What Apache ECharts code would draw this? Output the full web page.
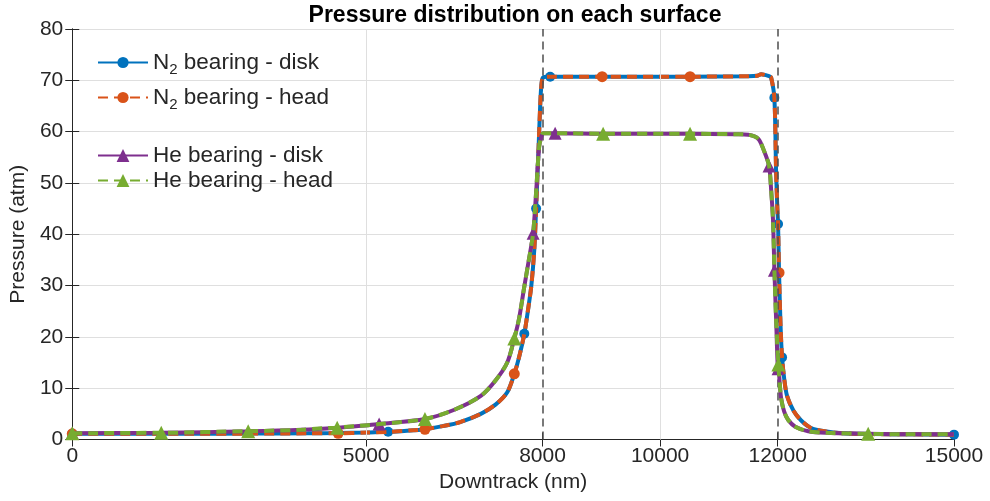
<!DOCTYPE html>
<html>
<head>
<meta charset="utf-8">
<script src="https://cdn.jsdelivr.net/npm/echarts@6/dist/echarts.min.js"></script>
<style>
  html, body { margin: 0; padding: 0; background: #fff; }
  #chart { width: 990px; height: 501px; }
</style>
</head>
<body>
<div id="chart"></div>
<script>
// 曲线数据
var n2X = [0, 1000, 2000, 3000, 4000, 4500, 5000, 5400, 5800, 6000, 6300, 6600, 6950, 7200, 7400, 7520, 7600, 7690, 7750, 7810, 7860, 7891, 7930, 7960, 7980, 8005, 8060, 8130, 9000, 10500, 11500, 11650, 11720, 11800, 11860, 11890, 11944, 11973, 11995, 12007, 12024, 12050, 12075, 12110, 12160, 12270, 12400, 12560, 12800, 13120, 13600, 14300, 15000]
var n2Y = [1.1, 1.1, 1.1, 1.15, 1.2, 1.25, 1.35, 1.5, 1.8, 2.0, 2.6, 3.4, 5.0, 6.8, 9.2, 12.8, 16, 20.6, 25, 30, 37, 45, 56, 65, 69, 70.5, 70.7, 70.7, 70.7, 70.7, 70.8, 70.9, 71.2, 71.0, 70.8, 70.5, 66.6, 52.5, 45, 42, 32.5, 22, 16, 12, 8.5, 5.6, 3.7, 2.3, 1.6, 1.2, 1.05, 1.0, 0.95]
var heX = [0, 1500, 3000, 3900, 4500, 5030, 5220, 6000, 6500, 6950, 7200, 7400, 7520, 7600, 7690, 7760, 7840, 7890, 7942, 7980, 8010, 8100, 8214, 9000, 10500, 11300, 11500, 11670, 11770, 11854, 11890, 11920, 11945, 11975, 12012, 12035, 12060, 12110, 12180, 12300, 12520, 12840, 13540, 14300, 15000]
var heY = [1.2, 1.3, 1.6, 1.9, 2.3, 2.8, 3.0, 4.0, 5.8, 8.5, 11.5, 15, 19.7, 23.5, 29.8, 34.5, 40.2, 48, 57, 59, 59.7, 59.7, 59.7, 59.6, 59.6, 59.5, 59.4, 58.6, 56.2, 53.3, 48.5, 43, 33, 23, 14.6, 11, 8, 5.5, 3.8, 2.5, 1.6, 1.3, 1.1, 1.0, 1.0]

// 标记点位置
var n2DiskMarkX = [0, 5374, 7690, 7891, 8130, 11944, 12007, 12075, 15000]
var n2DiskMarkY = [1.1, 1.5, 20.6, 45, 70.7, 66.6, 42, 16, 0.95]
var n2HeadMarkX = [0, 4524, 6000, 7520, 9014, 10510, 12024]
var n2HeadMarkY = [1.1, 1.2, 2.0, 12.8, 70.7, 70.7, 32.5]
var heDiskMarkX = [0, 5220, 7840, 8214, 11854, 11945, 12007]
var heDiskMarkY = [1.2, 3.0, 40.2, 59.7, 53.3, 33, 13.8]
var heHeadMarkX = [0, 1514, 2993, 4507, 6000, 7520, 9031, 10510, 12012, 13540]
var heHeadMarkY = [1.2, 1.3, 1.6, 2.3, 4.0, 19.7, 59.6, 59.6, 14.6, 1.1]

var xTicks = [0, 5000, 8000, 10000, 12000, 15000]
var gridX = [5000, 10000]
var dashX = [8000, 12000]

var names = ['N2 bearing - disk', 'N2 bearing - head', 'He bearing - disk', 'He bearing - head']
var colors = ['#0072BD', '#D95319', '#7E2F8E', '#77AC30']
var axisColor = '#262626'
var font = 'Liberation Sans, Arial, Helvetica, sans-serif'

function buildData(cx, cy, mx, my) {
  var pts = []
  cx.forEach(function (x, i) {
    pts.push({ value: [x, cy[i]], symbol: 'none' })
  })
  mx.forEach(function (x, i) {
    pts.push({ value: [x, my[i]] })
  })
  pts.sort(function (a, b) { return a.value[0] - b.value[0] })
  return pts
}

function lineSeries(idx, data, symbol, size, dashed, z) {
  return {
    name: names[idx],
    type: 'line',
    data: data,
    symbol: symbol,
    symbolSize: size,
    showAllSymbol: true,
    smooth: 0.3,
    z: z,
    color: colors[idx],
    lineStyle: {
      color: colors[idx],
      width: 4,
      type: dashed ? [10, 6] : 'solid'
    },
    itemStyle: {
      color: colors[idx],
      borderWidth: 0
    },
    emphasis: { disabled: true }
  }
}

var chart = echarts.init(document.getElementById('chart'))

var legendText = {
  fontSize: 22.5,
  color: axisColor,
  fontFamily: font,
  rich: {
    a: { fontSize: 22.5, lineHeight: 24, color: axisColor, fontFamily: font },
    sub: { fontSize: 15, lineHeight: 24, color: axisColor, fontFamily: font, padding: [14, 0, 0, 0] }
  }
}
function legendFormatter(name) {
  if (name.indexOf('N2') === 0) {
    return '{a|N}{sub|2}{a|' + name.slice(2) + '}'
  }
  return '{a|' + name + '}'
}

var tickStyle = { show: true, inside: true, length: 7, lineStyle: { color: axisColor, width: 1 } }

chart.setOption({
  animation: false,
  title: {
    text: 'Pressure distribution on each surface',
    left: 510,
    top: -1,
    textAlign: 'center',
    textStyle: { fontSize: 23, fontWeight: 'bold', color: '#000', fontFamily: font }
  },
  legend: [
    {
      data: [names[0], names[1]],
      orient: 'vertical',
      left: 97,
      top: 48,
      padding: 0,
      itemWidth: 50,
      itemHeight: 14,
      itemGap: 6,
      selectedMode: false,
      formatter: legendFormatter,
      textStyle: legendText
    },
    {
      data: [names[2], names[3]],
      orient: 'vertical',
      left: 97,
      top: 144,
      padding: 0,
      itemWidth: 50,
      itemHeight: 16,
      itemGap: 2,
      selectedMode: false,
      formatter: legendFormatter,
      textStyle: legendText
    }
  ],
  grid: {
    left: 71,
    right: 36,
    top: 29,
    bottom: 61.5
  },
  xAxis: [
    {
      type: 'value',
      min: 0,
      max: 15000,
      name: 'Downtrack (nm)',
      nameLocation: 'middle',
      nameGap: 32,
      nameTextStyle: { fontSize: 21, color: axisColor, fontFamily: font },
      axisLine: { lineStyle: { color: axisColor, width: 1 } },
      axisTick: Object.assign({ customValues: xTicks }, tickStyle),
      axisLabel: {
        customValues: xTicks,
        fontSize: 21,
        color: axisColor,
        fontFamily: font,
        margin: 6,
        formatter: function (v) { return String(v) }
      },
      splitLine: { show: false }
    },
    {
      type: 'value',
      position: 'top',
      min: 0,
      max: 15000,
      axisLine: { show: true, lineStyle: { color: axisColor, width: 1 } },
      axisTick: Object.assign({ customValues: xTicks }, tickStyle),
      axisLabel: { show: false },
      splitLine: { show: false }
    }
  ],
  yAxis: [
    {
      type: 'value',
      min: 0,
      max: 80,
      interval: 10,
      name: 'Pressure (atm)',
      nameLocation: 'middle',
      nameGap: 37,
      nameTextStyle: { fontSize: 21, color: axisColor, fontFamily: font },
      axisLine: { show: true, onZero: false, lineStyle: { color: axisColor, width: 1 } },
      axisTick: tickStyle,
      axisLabel: { fontSize: 21, color: axisColor, fontFamily: font, margin: 9 },
      splitLine: { show: true, lineStyle: { color: '#dfdfdf', width: 1 } }
    },
    {
      type: 'value',
      position: 'right',
      min: 0,
      max: 80,
      interval: 10,
      axisLine: { show: true, lineStyle: { color: axisColor, width: 1 } },
      axisTick: tickStyle,
      axisLabel: { show: false },
      splitLine: { show: false }
    }
  ],
  series: [
    {
      // 竖直网格线
      type: 'line',
      data: [],
      z: 1,
      silent: true,
      markLine: {
        symbol: 'none',
        silent: true,
        label: { show: false },
        lineStyle: { color: '#dfdfdf', width: 1, type: 'solid' },
        data: gridX.map(function (x) { return { xAxis: x } })
      }
    },
    lineSeries(0, buildData(n2X, n2Y, n2DiskMarkX, n2DiskMarkY), 'circle', 10, false, 3),
    lineSeries(1, buildData(n2X, n2Y, n2HeadMarkX, n2HeadMarkY), 'circle', 11, true, 4),
    lineSeries(2, buildData(heX, heY, heDiskMarkX, heDiskMarkY), 'triangle', 13, false, 5),
    lineSeries(3, buildData(heX, heY, heHeadMarkX, heHeadMarkY), 'triangle', 14, true, 6),
    {
      // 8000 / 12000 虚线
      type: 'line',
      data: [],
      z: 10,
      silent: true,
      markLine: {
        symbol: 'none',
        silent: true,
        label: { show: false },
        lineStyle: { color: '#4d4d4d', width: 1.5, type: [8, 5] },
        data: dashX.map(function (x) { return { xAxis: x } })
      }
    }
  ]
})
</script>
</body>
</html>
